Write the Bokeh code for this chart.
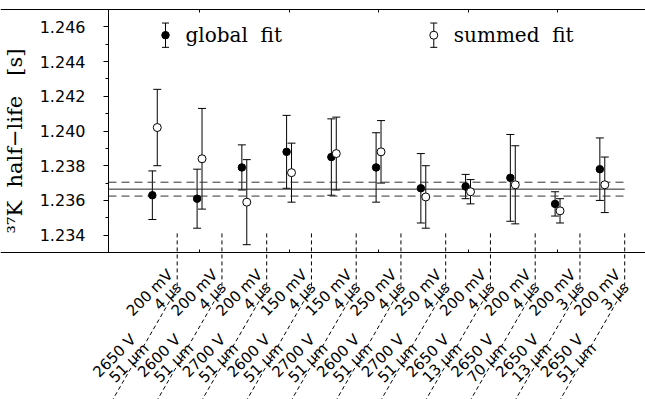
import math
from bokeh.plotting import figure
from bokeh.models import (ColumnDataSource, Range1d, FixedTicker, LinearAxis,
                          Whisker, TeeHead, PrintfTickFormatter)
from bokeh.embed import file_html
from bokeh.resources import INLINE
from bokeh.core.properties import value

# ---------------- data ----------------
groups = [1, 2, 3, 4, 5, 6, 7, 8, 9, 10, 11]
global_val = [1.2363, 1.2361, 1.2379, 1.2388, 1.2385, 1.2379, 1.2367, 1.2368, 1.2373, 1.2358, 1.2378]
global_err = [0.0014, 0.0017, 0.0013, 0.0021, 0.0022, 0.0020, 0.0020, 0.0007, 0.0025, 0.0007, 0.0018]
summed_val = [1.2402, 1.2384, 1.2359, 1.2376, 1.2387, 1.2388, 1.2362, 1.2365, 1.2369, 1.2354, 1.2369]
summed_err = [0.0022, 0.0029, 0.00245, 0.0017, 0.0021, 0.0018, 0.0018, 0.0007, 0.00225, 0.0007, 0.0016]
mean_val = 1.23665
mean_err = 0.0004
thresh = ["200 mV", "200 mV", "200 mV", "150 mV", "150 mV", "250 mV", "250 mV", "200 mV", "200 mV", "200 mV", "200 mV"]
shaping = ["4 μs", "4 μs", "4 μs", "4 μs", "4 μs", "4 μs", "4 μs", "4 μs", "4 μs", "3 μs", "3 μs"]
voltage = ["2650 V", "2600 V", "2700 V", "2600 V", "2700 V", "2600 V", "2700 V", "2650 V", "2650 V", "2650 V", "2650 V"]
foil = ["51 μm", "51 μm", "51 μm", "51 μm", "51 μm", "51 μm", "51 μm", "13 μm", "70 μm", "13 μm", "51 μm"]
y_ticks = [1.234, 1.236, 1.238, 1.240, 1.242, 1.244, 1.246]
y_minor = [1.233, 1.235, 1.237, 1.239, 1.241, 1.243, 1.245, 1.247]
x_ticks = [2, 4, 6, 8, 10]
legend_names = ["global\u00a0\u00a0fit", "summed\u00a0\u00a0fit"]
y_title = "³⁷K\u00a0\u00a0half\u2212life\u00a0\u00a0\u00a0[s]"

# ---------------- layout constants ----------------
FIG_W, FIG_H = 645, 399
AXIS_LEFT_PX = 108                # where the y axis sits
FRAME_TOP = 5
AXIS_TOP_PX = 9                   # where 1.247 sits
XMIN, XMAX = -0.035, 11.965
YAX, YMAX = 1.233, 1.247          # visible axis extent
AXIS_PX = 243                     # pixel height of the plotting area
PXU = (FIG_W - AXIS_LEFT_PX) / (XMAX - XMIN)
PXY = AXIS_PX / (YMAX - YAX)
XLEFT = XMIN - AXIS_LEFT_PX / PXU
YTOP = YMAX + (AXIS_TOP_PX - FRAME_TOP) / PXY
FRAME_H = FIG_H - FRAME_TOP
YLOW = YTOP - FRAME_H / PXY
DX = 0.055
SEP_TOP = 1.2341
BEND = 35.5
LEG_X = [1.239, 7.234]
LEG_Y = 1.24552
LEG_E = 0.0007
TITLE_PAD = "\u00a0" * 3

seps = [g + 0.5 for g in groups]

def below(px):
    return YAX - px / PXY

p = figure(width=FIG_W, height=FIG_H, x_range=Range1d(XLEFT, XMAX), y_range=Range1d(YLOW, YTOP),
           output_backend="svg", toolbar_location=None, x_axis_location=None,
           min_border_left=0, min_border_right=0, min_border_top=FRAME_TOP, min_border_bottom=0)
p.outline_line_color = None
p.xgrid.visible = False
p.ygrid.visible = False
p.background_fill_color = "white"

# bottom and top frame lines with inward ticks (both drawn at fixed locations)
for fixed, t_in, t_out in ((YAX, 3, 0), (YMAX, 0, 3)):
    ax = LinearAxis(ticker=FixedTicker(ticks=x_ticks), major_tick_in=t_in, major_tick_out=t_out,
                    minor_tick_line_color=None, major_label_text_font_size="1px",
                    major_label_text_color=None, major_label_standoff=0,
                    axis_line_color="black", major_tick_line_color="black", fixed_location=fixed)
    p.add_layout(ax, "below")

# top border drawn as a plain line as well
p.line([XMIN, XMAX], [YMAX, YMAX], line_color="black", line_width=1)

ya = p.yaxis[0]
ya.fixed_location = XMIN
ya.bounds = (YAX, YMAX)
ya.ticker = FixedTicker(ticks=y_ticks, minor_ticks=y_minor)
ya.formatter = PrintfTickFormatter(format="%.3f")
ya.major_tick_in = 0
ya.major_tick_out = 5
ya.minor_tick_in = 0
ya.minor_tick_out = 3
ya.axis_line_color = "black"
ya.major_tick_line_color = "black"
ya.minor_tick_line_color = "black"
ya.major_label_standoff = 18
ya.major_label_text_font = "DejaVu Sans"
ya.major_label_text_font_size = "16px"
ya.major_label_text_color = "black"
ya.axis_label = y_title + TITLE_PAD
ya.axis_label_text_font = "DejaVu Serif"
ya.axis_label_text_font_size = "21px"
ya.axis_label_text_font_style = "normal"
ya.axis_label_text_color = "black"
ya.axis_label_standoff = 10

# mean lines
p.line([XMIN, seps[-1]], [mean_val, mean_val], line_color="#222222", line_width=1)
for s in (-1, 1):
    p.line([XMIN, seps[-1]], [mean_val + s * mean_err] * 2, line_color="#333333",
           line_width=1, line_dash="8 5")

# separators (vertical then slanted below the axis)
tan60 = math.tan(math.radians(60))
drop = FRAME_H + 30
dxu = (drop - AXIS_PX - BEND) / tan60 / PXU
p.multi_line(xs=[[s, s, s - dxu] for s in seps],
             ys=[[SEP_TOP, below(BEND), below(drop - AXIS_PX)] for _ in seps],
             line_color="black", line_width=1, line_dash="4 3")

def errbars(fig, xs, ys, es, cap):
    src = ColumnDataSource(dict(x=xs, lo=[y - e for y, e in zip(ys, es)], hi=[y + e for y, e in zip(ys, es)]))
    w = Whisker(source=src, base="x", lower="lo", upper="hi", dimension="height",
                line_color="black", line_width=1, level="underlay",
                upper_head=TeeHead(size=cap, line_color="black", line_width=1),
                lower_head=TeeHead(size=cap, line_color="black", line_width=1))
    fig.add_layout(w)

gx = [g - DX for g in groups]
sx = [g + DX for g in groups]
errbars(p, gx, global_val, global_err, 8)
errbars(p, sx, summed_val, summed_err, 8)
p.scatter(gx, global_val, marker="circle", size=7.5, fill_color="black", line_color="black")
p.scatter(sx, summed_val, marker="circle", size=8, fill_color="white", line_color="black", line_width=1)

# legend
errbars(p, LEG_X, [LEG_Y, LEG_Y], [LEG_E, LEG_E], 7)
p.scatter([LEG_X[0]], [LEG_Y], marker="circle", size=7.5, fill_color="black", line_color="black")
p.scatter([LEG_X[1]], [LEG_Y], marker="circle", size=8, fill_color="white", line_color="black")
p.text(x=LEG_X, y=[LEG_Y, LEG_Y], text=legend_names, x_offset=20, text_baseline="middle",
       text_align="left", text_font=value("DejaVu Serif"), text_font_size="20px", text_color="black")

# rotated condition labels under the axis
ang = math.pi / 4
common = dict(angle=ang, text_align="right", text_baseline="alphabetic",
              text_font=value("DejaVu Sans"), text_font_size="15px", text_color="black")
n = len(groups)
p.text(x=groups, y=[below(19.8)] * n, text=thresh, x_offset=15.5, **common)
p.text(x=groups, y=[below(32.5)] * n, text=shaping, x_offset=24, **common)
p.text(x=groups, y=[below(84.5)] * n, text=voltage, x_offset=-21.5, **common)
p.text(x=groups, y=[below(93.5)] * n, text=foil, x_offset=-8.8, **common)

open("out.html", "w").write(file_html(p, INLINE))
